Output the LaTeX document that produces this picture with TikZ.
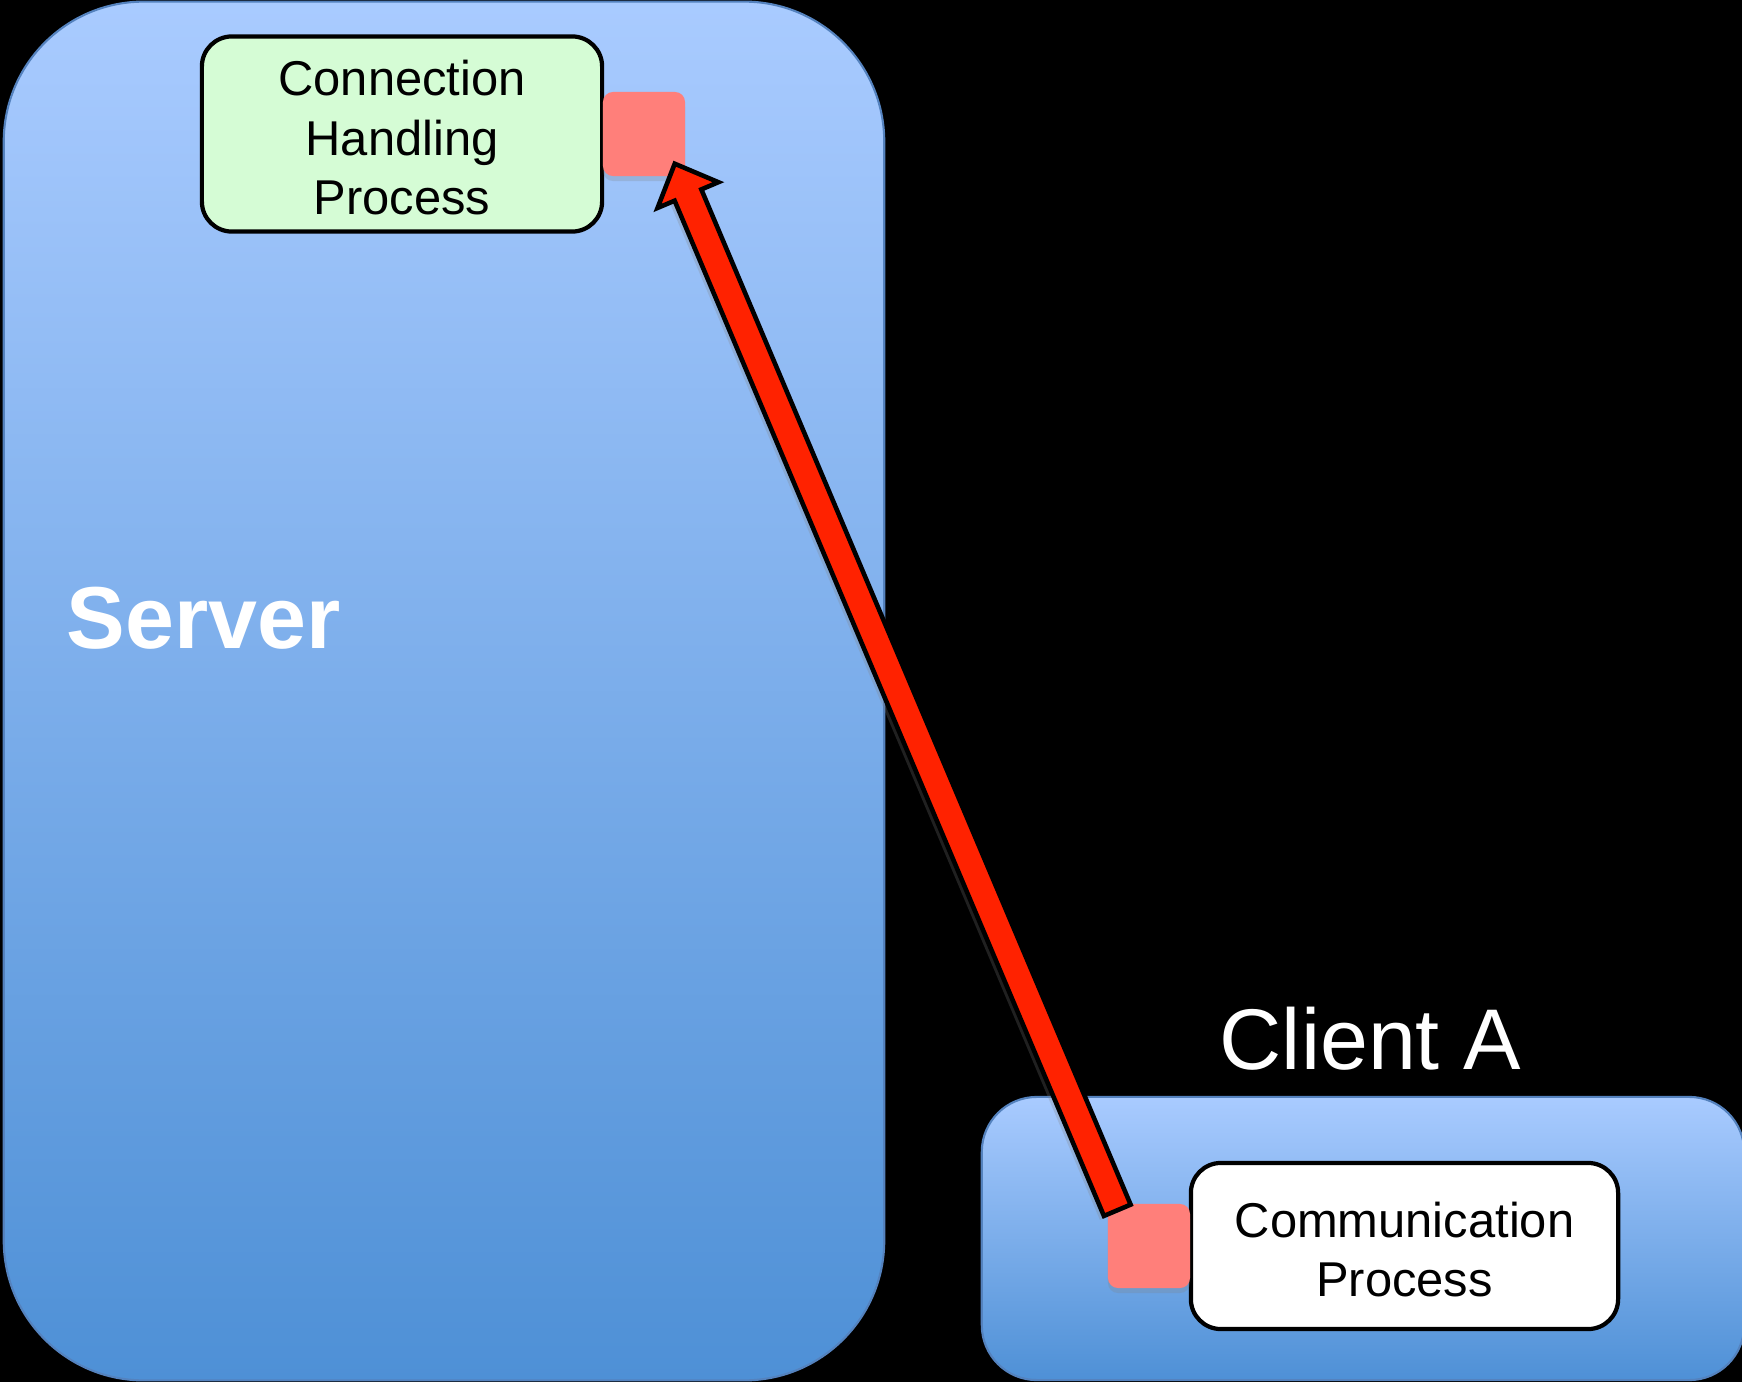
\documentclass[tikz,border=0pt]{standalone}
\usepackage{fontspec}
\setmainfont{Liberation Sans}
\usetikzlibrary{calc,shadows}

\definecolor{boxtop}{RGB}{169,203,255}
\definecolor{boxbot}{RGB}{78,144,214}
\definecolor{boxedge}{RGB}{84,130,190}
\definecolor{procgreen}{RGB}{213,252,213}
\definecolor{portred}{RGB}{255,127,122}
\definecolor{arrowred}{RGB}{255,34,0}

% raises the top of a text block so that its lines sit a little lower
\newcommand{\toplift}{\rule{0pt}{12.2pt}}

\begin{document}
\begin{tikzpicture}[x=0.01cm,y=-0.01cm,
  hostbox/.style={draw=boxedge, line width=0.6pt, top color=boxtop,
    bottom color=boxbot, inner sep=0},
  procbox/.style={draw=black, line width=1.2pt, rounded corners=3mm,
    align=center, inner sep=0,
    font=\fontsize{13.9}{16.9}\selectfont},
  port/.style={fill=portred, rounded corners=1mm, minimum width=8.2mm,
    minimum height=8.4mm, inner sep=0,
    drop shadow={shadow xshift=0pt, shadow yshift=-0.5mm, opacity=0.25}},
  msgarrow/.style={fill=arrowred, draw=black, line width=1.3pt,
    line join=miter,
    drop shadow={shadow xshift=-0.4mm, shadow yshift=-0.4mm, opacity=0.25}},
  hostlabel/.style={text=white, inner sep=0, anchor=base west}
]
% page and background
\useasboundingbox (0,0) rectangle (1742,1382);
\fill[black] (0,0) rectangle (1742,1382);

% hosts
\node[hostbox, rounded corners=14mm, minimum width=88mm,
  minimum height=137.8mm] (server) at (444,691) {};
\node[hostbox, rounded corners=5.5mm, minimum width=76.2mm,
  minimum height=28.3mm] (client) at (1363,1238.5) {};

% processes
\node[procbox, fill=procgreen, minimum width=40mm, minimum height=19.5mm]
  (chp) at (402,134) {\toplift Connection\\Handling\\Process};
\node[procbox, fill=white, minimum width=42.7mm, minimum height=16.6mm]
  (comm) at (1404.5,1246) {\toplift Communication\\Process};

% sockets
\node[port] (sport) at (644,134) {};
\node[port] (cport) at (1149,1246) {};

% connection request arrow
\coordinate (tip) at ($(sport.south east)+(-11,-13)$);
\coordinate (tail) at ($(cport.north west)+(10,7)$);
\coordinate (hb) at ($(tip)!3.4mm!(tail)$);
\filldraw[msgarrow]
  ($(tail)!1.45mm!90:(tip)$) --
  ($(hb)!1.45mm!90:(tip)$) --
  ($(hb)!3.3mm!90:(tip)$) --
  (tip) --
  ($(hb)!3.3mm!-90:(tip)$) --
  ($(hb)!1.45mm!-90:(tip)$) --
  ($(tail)!1.45mm!-90:(tip)$) -- cycle;

% host labels
\node[hostlabel, font=\fontsize{25}{30}\selectfont\bfseries]
  (serverlabel) at (66,648) {Server};
\node[hostlabel, font=\fontsize{24.5}{29}\selectfont]
  (clientlabel) at (1219,1069) {Client A};
\end{tikzpicture}
\end{document}
